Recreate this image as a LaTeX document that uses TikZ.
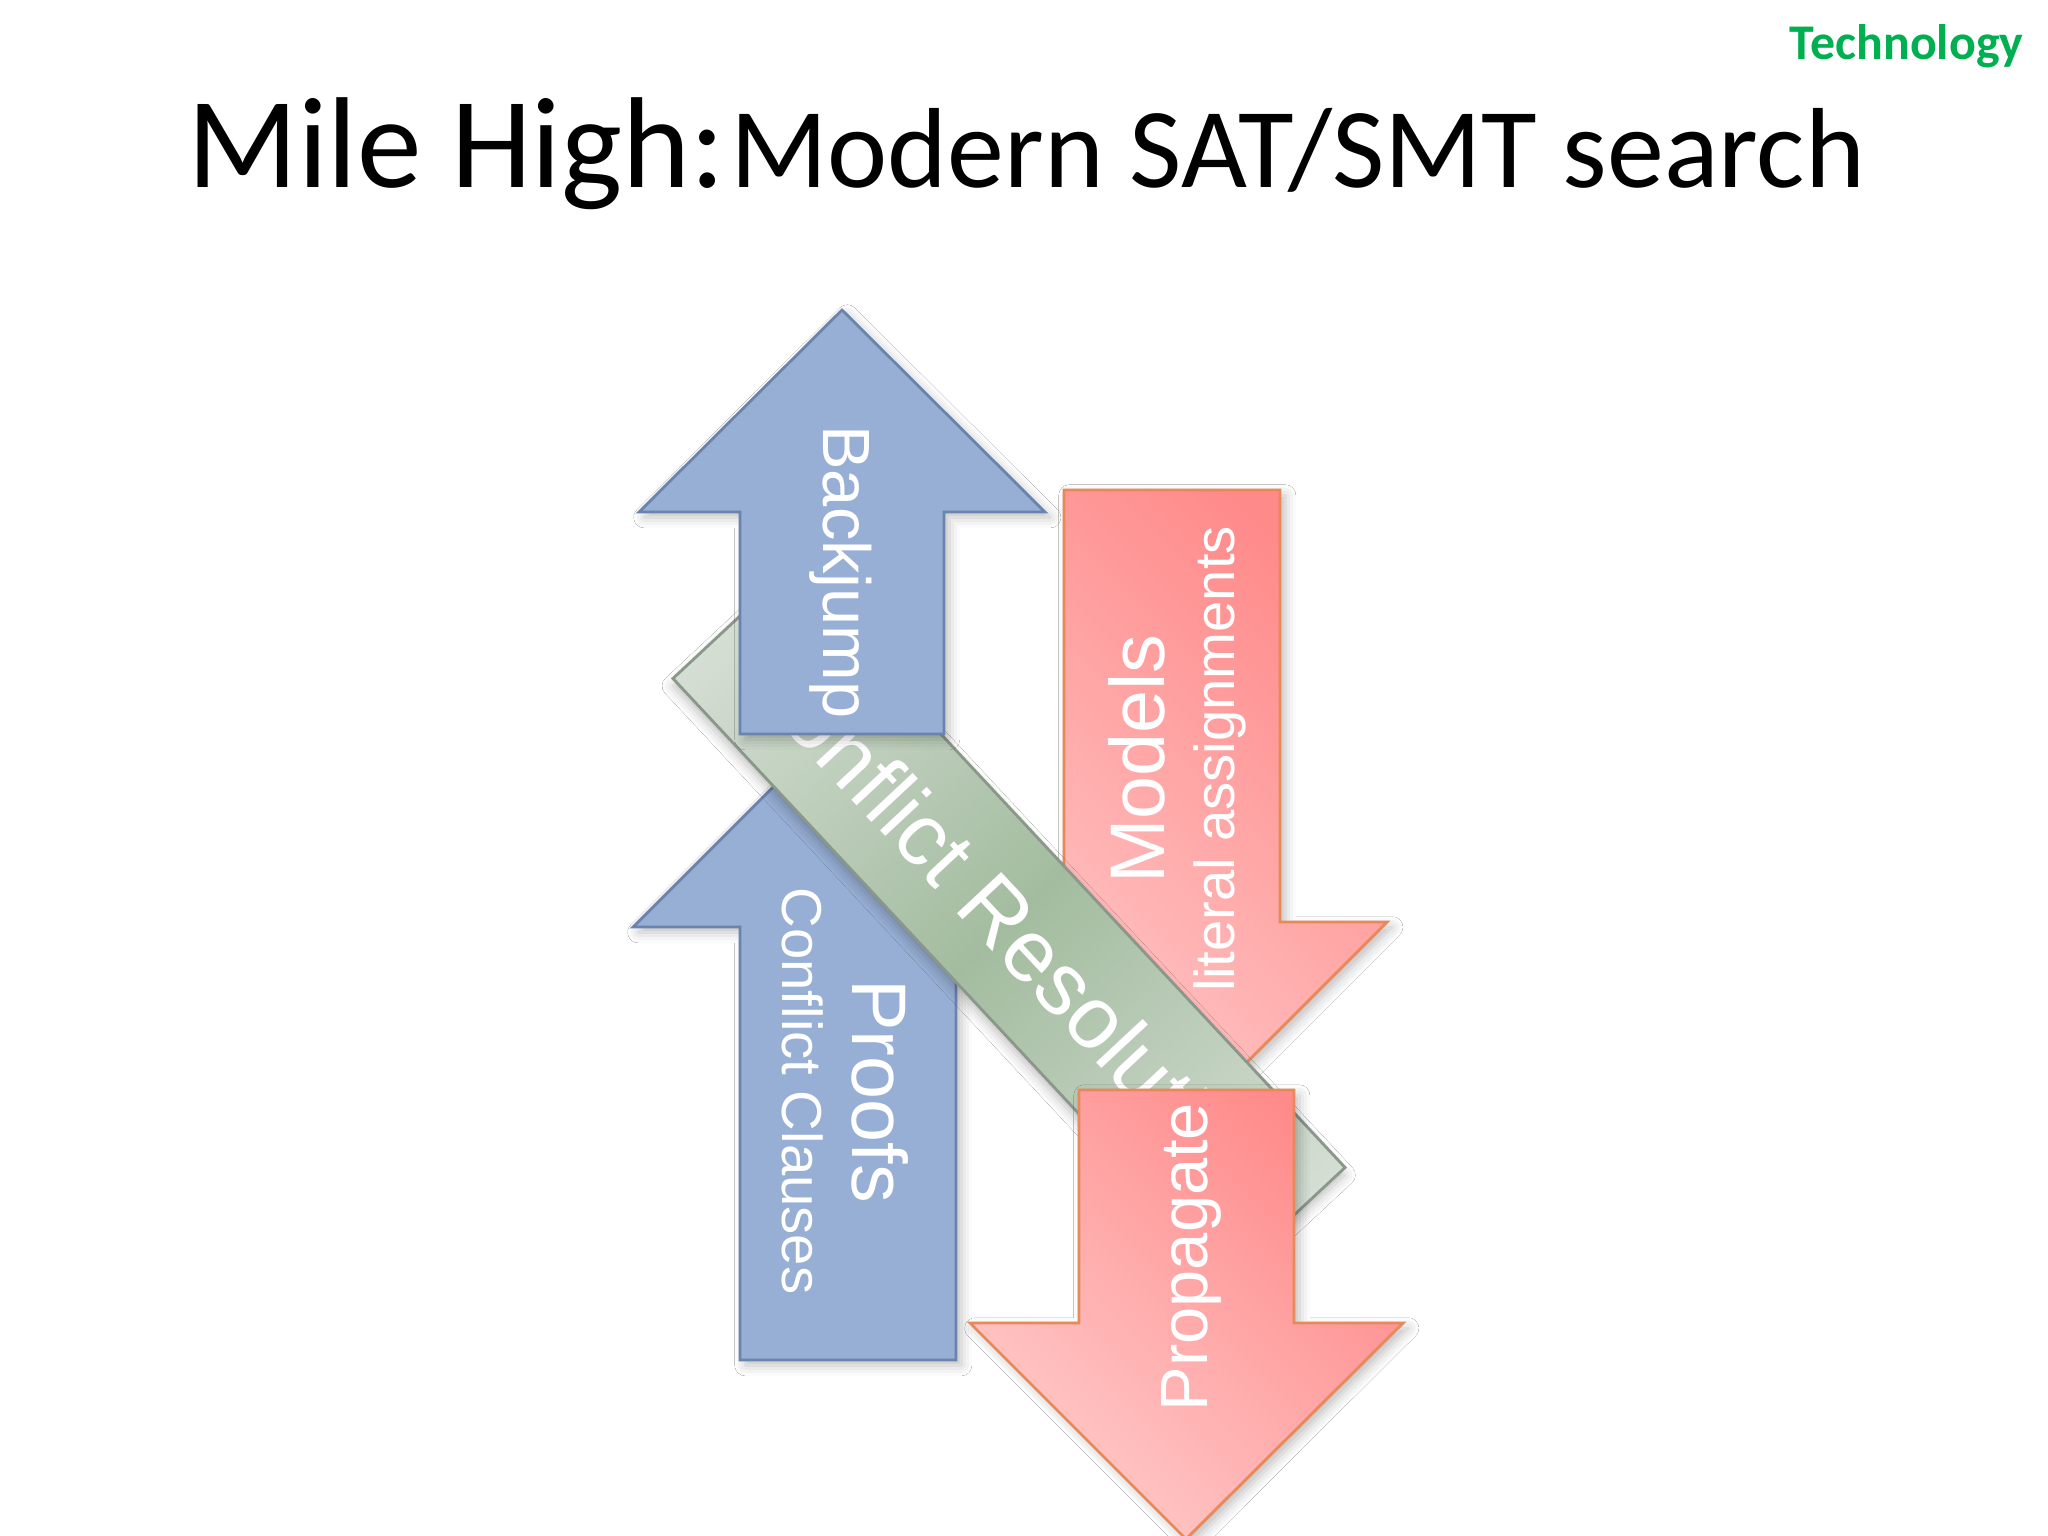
\documentclass[tikz,border=0pt]{standalone}
\usepackage{fontspec}
\setmainfont{Carlito}
\newfontfamily\labelfont{Liberation Sans}
\usetikzlibrary{shadows.blur}

\definecolor{techgreen}{HTML}{00B050}
\definecolor{bluefill}{HTML}{97AFD4}
\definecolor{blueline}{HTML}{6A84AE}
\definecolor{reddark}{HTML}{FF8A8A}
\definecolor{redlight}{HTML}{FFCACA}
\definecolor{redline}{HTML}{E8895A}
\definecolor{greendark}{HTML}{A3BC9F}
\definecolor{greenlight}{HTML}{D5DED4}
\definecolor{greenline}{HTML}{8A978A}

\tikzset{
  softshadow/.style={blur shadow={shadow xshift=1.5pt, shadow yshift=-1.5pt, shadow blur radius=3pt, shadow opacity=25}},
  bluearrow/.style={fill=bluefill, draw=blueline, line width=0.8pt, line join=miter, softshadow},
  redarrow/.style={top color=reddark, bottom color=redlight, shading angle=-45, draw=redline, line width=0.8pt, softshadow},
  greenband/.style={left color=greenlight, right color=greenlight, middle color=greendark, draw=greenline, line width=0.8pt, softshadow},
  arrowlabel/.style={text=white, font=\labelfont\fontsize{16}{20}\selectfont, inner sep=0pt, align=center}
}

\begin{document}
\begin{tikzpicture}[x=0.01cm,y=-0.01cm]
  \useasboundingbox (0,0) rectangle (2048,1536);
  \fill[white] (0,0) rectangle (2048,1536);

  % title
  \node [anchor=base west, inner sep=0pt] (title) at (187,187)
    {{\fontsize{36.8}{40}\selectfont Mile High:}\hspace{1.5pt}{\fontsize{32.4}{36}\selectfont Modern SAT/SMT search}};
  \node [anchor=base east, inner sep=0pt, text=techgreen, font=\bfseries\fontsize{14.2}{16}\selectfont] (tech) at (2024,59) {Technology};

  % lower left: proofs
  \draw [bluearrow] (740,1360) -- (740,927) -- (633,927) -- (848,712) -- (1063,927) -- (956,927) -- (956,1360) -- cycle;
  \node [arrowlabel, rotate=-90] (proofs) at (845,1091)
    {{\fontsize{22}{20}\selectfont Proofs}\\Conflict Clauses};

  % upper right: models
  \draw [redarrow] (1064,490) -- (1064,922) -- (957,922) -- (1172,1137) -- (1387,922) -- (1280,922) -- (1280,490) -- cycle;
  \node [arrowlabel, rotate=90] (models) at (1177,759)
    {{\fontsize{22}{20}\selectfont Models}\\literal assignments};

  % band across the middle
  \begin{scope}[transform canvas={shift={(1009,923)}, rotate=-47}]
    \draw [greenband] (-408,-79) rectangle (408,79);
    \node [arrowlabel, font=\labelfont\fontsize{25}{27}\selectfont] (resolve) at (0,0) {Conflict Resolution};
  \end{scope}

  % upper left: backjump
  \draw [bluearrow] (740,734) -- (740,512) -- (639,512) -- (842,310) -- (1045,512) -- (944,512) -- (944,734) -- cycle;
  \node [arrowlabel, rotate=-90, font=\labelfont\fontsize{19}{21}\selectfont] (backjump) at (841,572) {Backjump};

  % lower right: propagate
  \draw [redarrow] (1079,1090) -- (1079,1323) -- (970,1323) -- (1186,1539) -- (1403,1323) -- (1294,1323) -- (1294,1090) -- cycle;
  \node [arrowlabel, rotate=90, font=\labelfont\fontsize{19}{21}\selectfont] (propagate) at (1191,1257) {Propagate};
\end{tikzpicture}
\end{document}
